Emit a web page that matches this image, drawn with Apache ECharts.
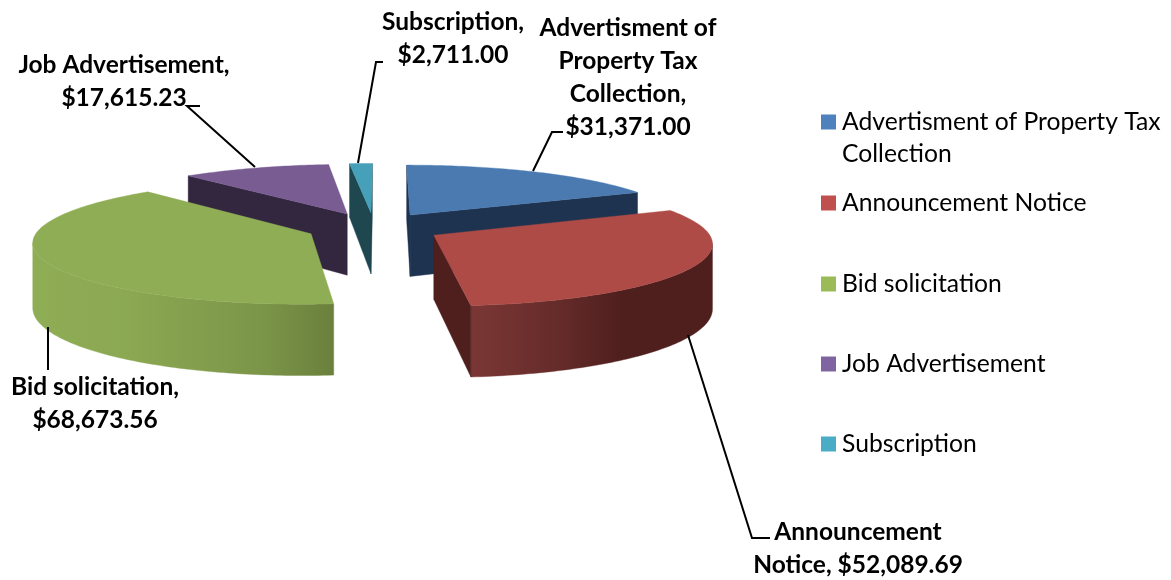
<!DOCTYPE html>
<html><head><meta charset="utf-8">
<style>html,body{margin:0;padding:0;background:#fff}#c{width:1171px;height:580px}</style>
<script src="https://cdn.jsdelivr.net/npm/echarts@6/dist/echarts.min.js"></script>
</head><body><div id="c"></div>
<script>
const categories = ['Advertisment of Property Tax Collection','Announcement Notice','Bid solicitation','Job Advertisement','Subscription'];
const values = [31371.00,52089.69,68673.56,17615.23,2711.00];
const legendColors = ['#4F81BD','#C0504D','#9BBB59','#8064A2','#4BACC6'];
const topColors = ['#4A7AB0','#AE4B47','#8FAD55','#785C92','#46A0BA'];
const wallColors = ['#1E3350','#4F1F1E','#6A803C','#332740','#1E4750'];
const labelLines = [
  'Advertisment of\nProperty Tax\nCollection,\n',
  'Announcement\nNotice, ',
  'Bid solicitation,\n',
  'Job Advertisement,\n',
  'Subscription,\n'];
const labelAnchors = [[628,77.5],[858,549],[95,404],[124,81.5],[453,39]];
const leaders = [
  [[563,132],[552,132],[533,171]],
  [[770,538],[752,538],[688,335]],
  [[48,370],[48,327]],
  [[200,106],[187,106],[255,167]],
  [[383,62],[376,62],[358,163]]];
const legendTops = [106,187,268,348,428];
const paintOrder = [0,3,4,2,1];

// projection parameters of the 3D pie
const P = {cx:374, cy:227.5, R:272, ry:61, vx:382, k:0.12, ky:0.128, h:63, explode:0.25};
const total = values.reduce((a,b)=>a+b,0);
const rad = d=>d*Math.PI/180;
const money = v=>'$'+v.toLocaleString('en-US',{minimumFractionDigits:2,maximumFractionDigits:2});

function project(wx,wy,down){
  const s = 1+P.k*wy;
  const x = P.vx+(P.cx+P.R*wx-P.vx)*s;
  const y = P.cy+P.ry*wy*(1+P.ky*wy)+(down?P.h*s:0);
  return [x,y];
}
function shoelace(p){let a=0;for(let i=0;i<p.length;i++){const q=p[(i+1)%p.length];a+=p[i][0]*q[1]-q[0]*p[i][1];}return a;}

function sliceShapes(i){
  let start=0; for(let j=0;j<i;j++) start+=values[j]/total*360;
  const end=start+values[i]/total*360, mid=(start+end)/2;
  const ax=P.explode*Math.sin(rad(mid)), ay=-P.explode*Math.cos(rad(mid));
  const at=(t,d)=>project(ax+Math.sin(rad(t)),ay-Math.cos(rad(t)),d);
  const apexT=project(ax,ay,false), apexB=project(ax,ay,true);
  const arc=[]; const n=Math.max(4,Math.ceil(end-start));
  for(let q=0;q<=n;q++) arc.push(start+(end-start)*q/n);
  const top=[apexT].concat(arc.map(t=>at(t,false)));
  const startWall=[apexT,at(start,false),at(start,true),apexB];
  const endWall=[apexT,at(end,false),at(end,true),apexB];
  // the curved wall is visible only between the two silhouette extremes of the rim
  const xs=arc.map(t=>at(t,false)[0]);
  const iMax=xs.indexOf(Math.max(...xs)), iMin=xs.indexOf(Math.min(...xs));
  const vis=iMax<iMin?arc.slice(iMax,iMin+1):[];
  const outer=vis.length>1?vis.map(t=>at(t,false)).concat(vis.slice().reverse().map(t=>at(t,true))):null;
  return {top,startWall,endWall,outer};
}
const outerFill = [
  null,
  new echarts.graphic.LinearGradient(473,0,710,0,[
    {offset:0,color:'#7A3634'},{offset:0.35,color:'#662C2A'},{offset:0.62,color:'#4F1F1E'},{offset:1,color:'#4F1F1E'}],true),
  new echarts.graphic.LinearGradient(36,0,333,0,[
    {offset:0,color:'#8FAD55'},{offset:0.3,color:'#8BA852'},{offset:0.75,color:'#7C9649'},{offset:1,color:'#6A803C'}],true),
  null,null];

function renderSlice(i){
  const s=sliceShapes(i), ch=[];
  const poly=(pts,fill)=>ch.push({type:'polygon',shape:{points:pts},style:{fill:fill,stroke:fill,lineWidth:0.4}});
  if(s.outer&&outerFill[i]) poly(s.outer,outerFill[i]);
  if(shoelace(s.startWall)<0) poly(s.startWall,wallColors[i]);
  if(shoelace(s.endWall)>0) poly(s.endWall,wallColors[i]);
  poly(s.top,topColors[i]);
  return {type:'group',children:ch};
}
function renderLabel(p,api){
  const i=api.value(0), ch=[];
  ch.push({type:'polyline',shape:{points:leaders[i]},style:{stroke:'#000',lineWidth:2,fill:null}});
  ch.push({type:'text',style:{text:labelLines[i]+money(values[i]),x:labelAnchors[i][0],y:labelAnchors[i][1],
    align:'center',verticalAlign:'middle',fontFamily:'Lato',fontWeight:'bold',fontSize:24.5,lineHeight:33,fill:'#000'}});
  return {type:'group',children:ch};
}
const series = paintOrder.map(i=>({
  type:'custom',name:categories[i],coordinateSystem:'none',silent:true,
  itemStyle:{color:legendColors[i]},
  data:[[values[i]]],
  renderItem:()=>renderSlice(i)
}));
series.push({type:'custom',name:'labels',coordinateSystem:'none',silent:true,
  data:categories.map((c,i)=>[i]),renderItem:renderLabel});

const legends = categories.map((c,i)=>({
  left:821,top:legendTops[i],orient:'vertical',padding:0,selectedMode:false,
  itemWidth:15,itemHeight:i===0?47:15,itemGap:0,
  icon:i===0?'path://M0 0H15V15H0Z M0 47L0 47':'rect',
  data:[{name:c,itemStyle:{color:legendColors[i]}}],
  formatter:n=>n==='Advertisment of Property Tax Collection'?'Advertisment of Property Tax\nCollection':n,
  textStyle:{fontFamily:'Lato',fontSize:24.7,lineHeight:32,color:'#000',padding:[0,0,0,1]}
}));

const chart = echarts.init(document.getElementById('c'),null,{renderer:'canvas'});
chart.setOption({animation:false,backgroundColor:'#fff',legend:legends,series:series});
</script></body></html>
